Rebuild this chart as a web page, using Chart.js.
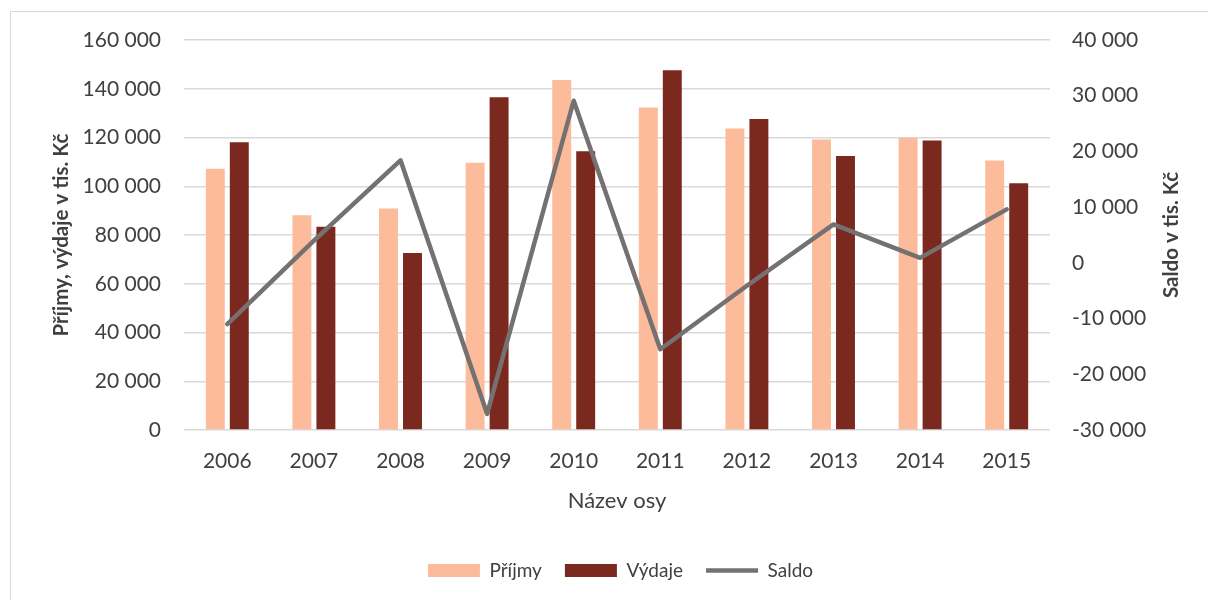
<!DOCTYPE html>
<html>
<head>
<meta charset="utf-8">
<script src="https://cdn.jsdelivr.net/npm/chart.js@4/dist/chart.umd.min.js"></script>
<style>
  html, body { margin: 0; padding: 0; background: #fff; }
  #wrap { position: relative; width: 1208px; height: 600px; overflow: hidden; }
  #frame { position: absolute; left: 10px; top: 11px; width: 1220px; height: 620px; border: 1px solid #d9d9d9; box-sizing: border-box; }
  canvas { position: absolute; left: 0; top: 0; }
</style>
</head>
<body>
<div id="wrap">
  <div id="frame"></div>
  <canvas id="chart" width="1208" height="600"></canvas>
</div>
<script>
// data
const years = ['2006', '2007', '2008', '2009', '2010', '2011', '2012', '2013', '2014', '2015'];
const prijmy = [107200, 88100, 90900, 109600, 143600, 132300, 123700, 119200, 119900, 110600];
const vydaje = [118100, 83400, 72600, 136500, 114400, 147600, 127600, 112400, 118800, 101200];
const saldo = [-11000, 4000, 18400, -27100, 29100, -15500, -4100, 6900, 900, 9600];

const leftTicks = [0, 160000, 20000];   // min, max, step
const rightTicks = [-30000, 40000, 10000];

const textColor = '#404040';
const fontFamily = 'Lato, "Open Sans", sans-serif';

function fmt(v) {
    const s = Math.abs(v).toString().replace(/\B(?=(\d{3})+(?!\d))/g, ' ');
    return (v < 0 ? '-' : '') + s;
}

// both axis titles read bottom-to-top
const axisTitles = {
    id: 'axisTitles',
    afterDraw(chart) {
        const a = chart.chartArea;
        const ctx = chart.ctx;
        const cy = (a.top + a.bottom) / 2;
        [[61, 'Příjmy, výdaje v tis. Kč'], [1171, 'Saldo v tis. Kč']].forEach(function(t) {
            ctx.save();
            ctx.translate(t[0], cy);
            ctx.rotate(-Math.PI / 2);
            ctx.font = 'bold 20.5px ' + fontFamily;
            ctx.fillStyle = textColor;
            ctx.textAlign = 'center';
            ctx.textBaseline = 'middle';
            ctx.fillText(t[1], 0, 0);
            ctx.restore();
        });
    }
};

Chart.defaults.font.family = fontFamily;
Chart.defaults.color = textColor;

new Chart(document.getElementById('chart'), {
    type: 'bar',
    data: {
        labels: years,
        datasets: [
            {
                label: 'Příjmy',
                data: prijmy,
                backgroundColor: '#FCBC9B',
                borderWidth: 0,
                yAxisID: 'y',
                order: 1,
                categoryPercentage: 0.554,
                barPercentage: 0.79,
                pointStyle: 'rect'
            },
            {
                label: 'Výdaje',
                data: vydaje,
                backgroundColor: '#7B291E',
                borderWidth: 0,
                yAxisID: 'y',
                order: 1,
                categoryPercentage: 0.554,
                barPercentage: 0.79,
                pointStyle: 'rect'
            },
            {
                type: 'line',
                label: 'Saldo',
                data: saldo,
                borderColor: '#767171',
                backgroundColor: '#767171',
                borderWidth: 4.5,
                borderJoinStyle: 'round',
                borderCapStyle: 'round',
                pointRadius: 0,
                pointStyle: 'line',
                tension: 0,
                yAxisID: 'y1',
                order: 0
            }
        ]
    },
    options: {
        responsive: false,
        animation: false,
        layout: { padding: { left: 33, right: 0, top: 40, bottom: 10 } },
        plugins: {
            tooltip: { enabled: false },
            legend: {
                position: 'bottom',
                labels: {
                    usePointStyle: true,
                    pointStyleWidth: 52,
                    boxHeight: 13,
                    padding: 23,
                    font: { size: 19 },
                    color: textColor,
                    sort: (a, b) => a.datasetIndex - b.datasetIndex
                }
            }
        },
        scales: {
            x: {
                grid: { display: false },
                border: { display: false },
                ticks: { font: { size: 21 }, padding: 11, color: textColor },
                title: {
                    display: true,
                    text: 'Název osy',
                    font: { size: 22 },
                    color: textColor,
                    padding: { top: 0, bottom: 24 }
                },
                afterFit(scale) { scale.height = 108; }
            },
            y: {
                position: 'left',
                min: leftTicks[0],
                max: leftTicks[1],
                ticks: { stepSize: leftTicks[2], font: { size: 21 }, padding: 23, color: textColor, callback: fmt },
                grid: { color: '#d9d9d9', lineWidth: 1.5, drawTicks: false },
                border: { display: false },
                afterFit(scale) { scale.width = 151; }
            },
            y1: {
                position: 'right',
                min: rightTicks[0],
                max: rightTicks[1],
                ticks: { stepSize: rightTicks[2], font: { size: 21 }, padding: 22, color: textColor, callback: fmt },
                grid: { display: false, drawTicks: false },
                border: { display: false },
                afterFit(scale) { scale.width = 158; }
            }
        }
    },
    plugins: [axisTitles]
});
</script>
</body>
</html>
